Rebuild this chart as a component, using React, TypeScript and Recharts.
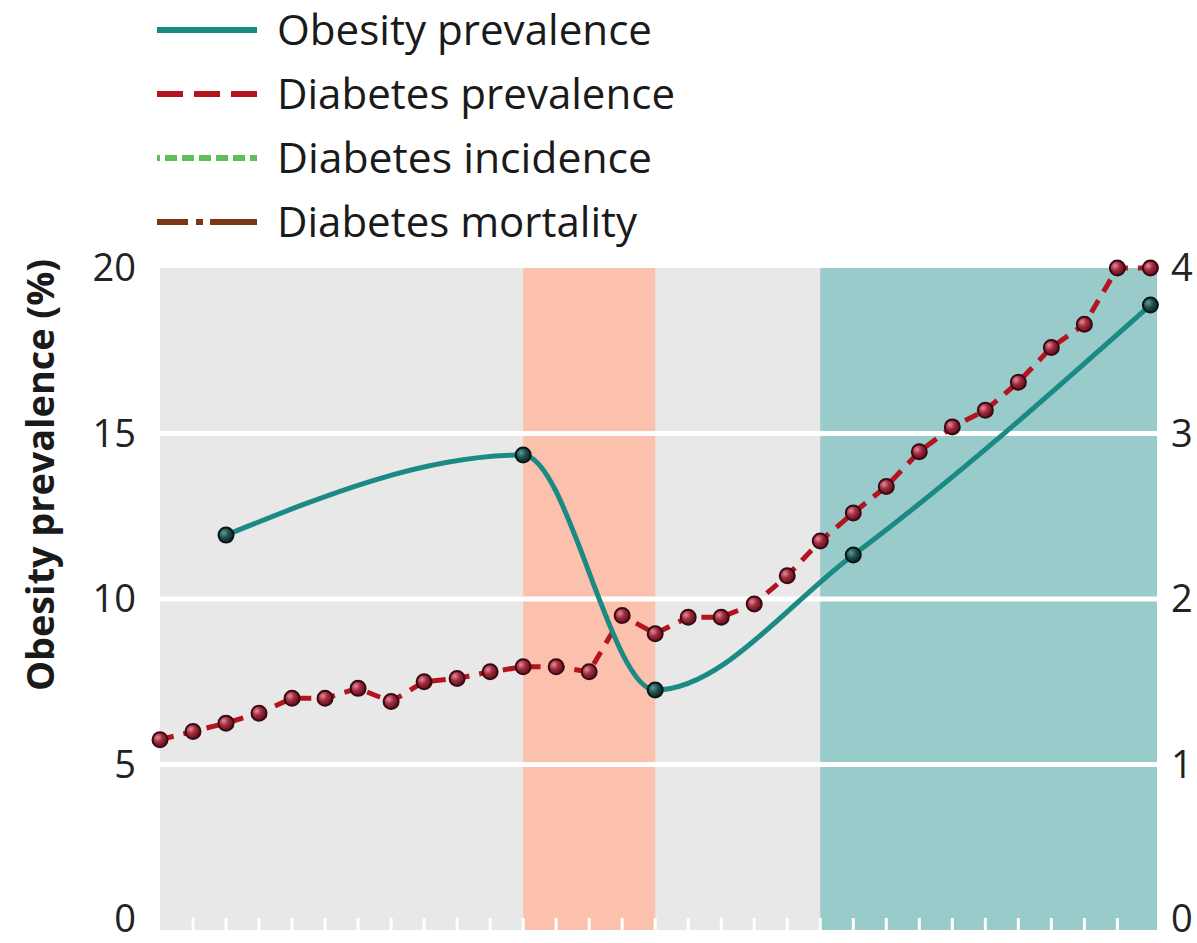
import React from 'react';
import { ComposedChart, Line, XAxis, YAxis, ReferenceArea, ReferenceLine, Label } from 'recharts';

// one entry per year on the x axis (no labels shown)
const periods = [0, 1, 2, 3, 4, 5, 6, 7, 8, 9, 10, 11, 12, 13, 14, 15, 16, 17, 18, 19, 20, 21, 22, 23, 24, 25, 26, 27, 28, 29, 30];
const diabetesPrevalence = [
    1.15, 1.2, 1.25, 1.31, 1.4, 1.4, 1.46, 1.38, 1.5, 1.52, 1.56, 1.59, 1.59, 1.56, 1.9, 1.79,
    1.89, 1.89, 1.97, 2.14, 2.35, 2.52, 2.68, 2.89, 3.04, 3.14, 3.31, 3.52, 3.66, 4.0, 4.0,
];
const obesityPrevalence = [
    null, null, 11.93, null, null, null, null, null, null, null, null, 14.35, null, null, null, 7.25,
    null, null, null, null, null, 11.33, null, null, null, null, null, null, null, null, 18.88,
];
const xTicks = [1, 2, 3, 4, 5, 6, 7, 8, 9, 10, 11, 12, 13, 14, 15, 16, 17, 18, 19, 20, 21, 22, 23, 24, 25, 26, 27, 28, 29];
const leftTicks = [0, 5, 10, 15, 20];
const rightTicks = [0, 1, 2, 3, 4];
const gridLevels = [5, 10, 15];

// shaded periods
const crisisBand = [11, 15];
const recentBand = [20, 30.2];

const legendNames = ['Obesity prevalence', 'Diabetes prevalence', 'Diabetes incidence', 'Diabetes mortality'];

const data = periods.map((p, i) => ({
    p,
    diabetes: diabetesPrevalence[i],
    obesity: obesityPrevalence[i],
}));

const TEAL = '#1b8a85';
const RED = '#b3141d';
const FONT = '"Open Sans", "Noto Sans", sans-serif';

const legendStyles = [
    { color: TEAL, dash: undefined, offset: 0 },
    { color: RED, dash: '26 11', offset: 0 },
    { color: '#5cbf5a', dash: '12 5', offset: 9 },
    { color: '#7b3616', dash: '31 8 7 7 60', offset: 0 },
];
const legendWidths = [375, 398, 375, 360];

function ChartLegend() {
    return (
        <svg width={700} height={250} style={{ position: 'absolute', left: 0, top: 0 }}>
            {legendNames.map((name, i) => {
                const cy = 30 + i * 64;
                const s = legendStyles[i];
                return (
                    <g key={name}>
                        <line x1={157} x2={257} y1={cy} y2={cy} stroke={s.color} strokeWidth={6}
                            strokeDasharray={s.dash} strokeDashoffset={s.offset} />
                        <text x={277} y={cy + 15} fontSize={42} fill="#1a1a1a" fontFamily={FONT}
                            textLength={legendWidths[i]} lengthAdjust="spacingAndGlyphs">{name}</text>
                    </g>
                );
            })}
        </svg>
    );
}

const DiabetesDot = (props: any) => {
    const { cx, cy, value, index } = props;
    if (value == null || cy == null) return null;
    return <circle key={`d-${index}`} cx={cx} cy={cy} r={7.5} fill="url(#redDot)" stroke="#3a0a12" strokeWidth={2} />;
};

const ObesityDot = (props: any) => {
    const { cx, cy, value, index } = props;
    if (value == null || cy == null) return null;
    return <circle key={`o-${index}`} cx={cx} cy={cy} r={7.5} fill="url(#tealDot)" stroke="#081818" strokeWidth={2} />;
};

const WhiteTick = (props: any) => {
    const { x, y } = props;
    return <line x1={x} x2={x} y1={y - 12} y2={y} stroke="#ffffff" strokeWidth={3} />;
};

// y tick label; the bottom "0" is nudged up so it stays inside the frame
const NumTick = (props: any) => {
    const { x, y, payload, textAnchor } = props;
    const shift = payload.value === 0 ? -11 : 0;
    return (
        <text x={x} y={y + 13 + shift} textAnchor={textAnchor} fontSize={38} fill="#222" fontFamily={FONT}>
            {payload.value}
        </text>
    );
};

export default function App() {
    return (
        <div style={{ position: 'absolute', left: 0, top: 0, width: 1197, height: 943, background: '#fff', fontFamily: FONT }}>
            <ComposedChart width={1197} height={943} data={data} margin={{ top: 268, right: 0, bottom: 12, left: 0 }}>
                <defs>
                    <radialGradient id="redDot" cx="35%" cy="35%" r="70%">
                        <stop offset="0%" stopColor="#e88a98" />
                        <stop offset="45%" stopColor="#a02c40" />
                        <stop offset="100%" stopColor="#5a0c1a" />
                    </radialGradient>
                    <radialGradient id="tealDot" cx="35%" cy="35%" r="70%">
                        <stop offset="0%" stopColor="#5e9a96" />
                        <stop offset="50%" stopColor="#1f4c4a" />
                        <stop offset="100%" stopColor="#0c2222" />
                    </radialGradient>
                </defs>
                <XAxis dataKey="p" type="number" domain={[0, 30.2]} ticks={xTicks} height={1} interval={0}
                    axisLine={false} tickLine={false} tickSize={0} tickMargin={0} tick={<WhiteTick />} />
                <YAxis yAxisId="l" domain={[0, 20]} ticks={leftTicks} width={160} axisLine={false} tickLine={false}
                    interval={0} tickSize={0} tickMargin={24} tick={<NumTick />}>
                    <Label content={(p: any) => (
                        <text x={p.viewBox.x + 54} y={475} transform={`rotate(-90, ${p.viewBox.x + 54}, 475)`}
                            textAnchor="middle" fontSize={37} fontWeight="bold" fill="#1a1a1a" fontFamily={FONT}
                            textLength={432} lengthAdjust="spacingAndGlyphs">
                            Obesity prevalence (%)
                        </text>
                    )} />
                </YAxis>
                <YAxis yAxisId="r" orientation="right" domain={[0, 4]} ticks={rightTicks} width={40} axisLine={false}
                    interval={0} tickLine={false} tickSize={0} tickMargin={14} tick={<NumTick />} />

                <ReferenceArea yAxisId="l" x1={0} x2={30.2} y1={0} y2={20} fill="#e8e8e8" fillOpacity={1} stroke="none" />
                <ReferenceArea yAxisId="l" x1={crisisBand[0]} x2={crisisBand[1]} y1={0} y2={20} fill="#fcc1ad" fillOpacity={1} stroke="none" />
                <ReferenceArea yAxisId="l" x1={recentBand[0]} x2={recentBand[1]} y1={0} y2={20} fill="#99cbcb" fillOpacity={1} stroke="none" />
                {gridLevels.map((g) => (
                    <ReferenceLine key={g} yAxisId="l" y={g} stroke="#ffffff" strokeWidth={5} />
                ))}

                <Line yAxisId="r" dataKey="diabetes" type="linear" stroke={RED} strokeWidth={5} strokeDasharray="14 10"
                    dot={<DiabetesDot />} activeDot={false} isAnimationActive={false} />
                <Line yAxisId="l" dataKey="obesity" type="monotone" stroke={TEAL} strokeWidth={5} connectNulls
                    dot={<ObesityDot />} activeDot={false} isAnimationActive={false} />
            </ComposedChart>
            <ChartLegend />
        </div>
    );
}
